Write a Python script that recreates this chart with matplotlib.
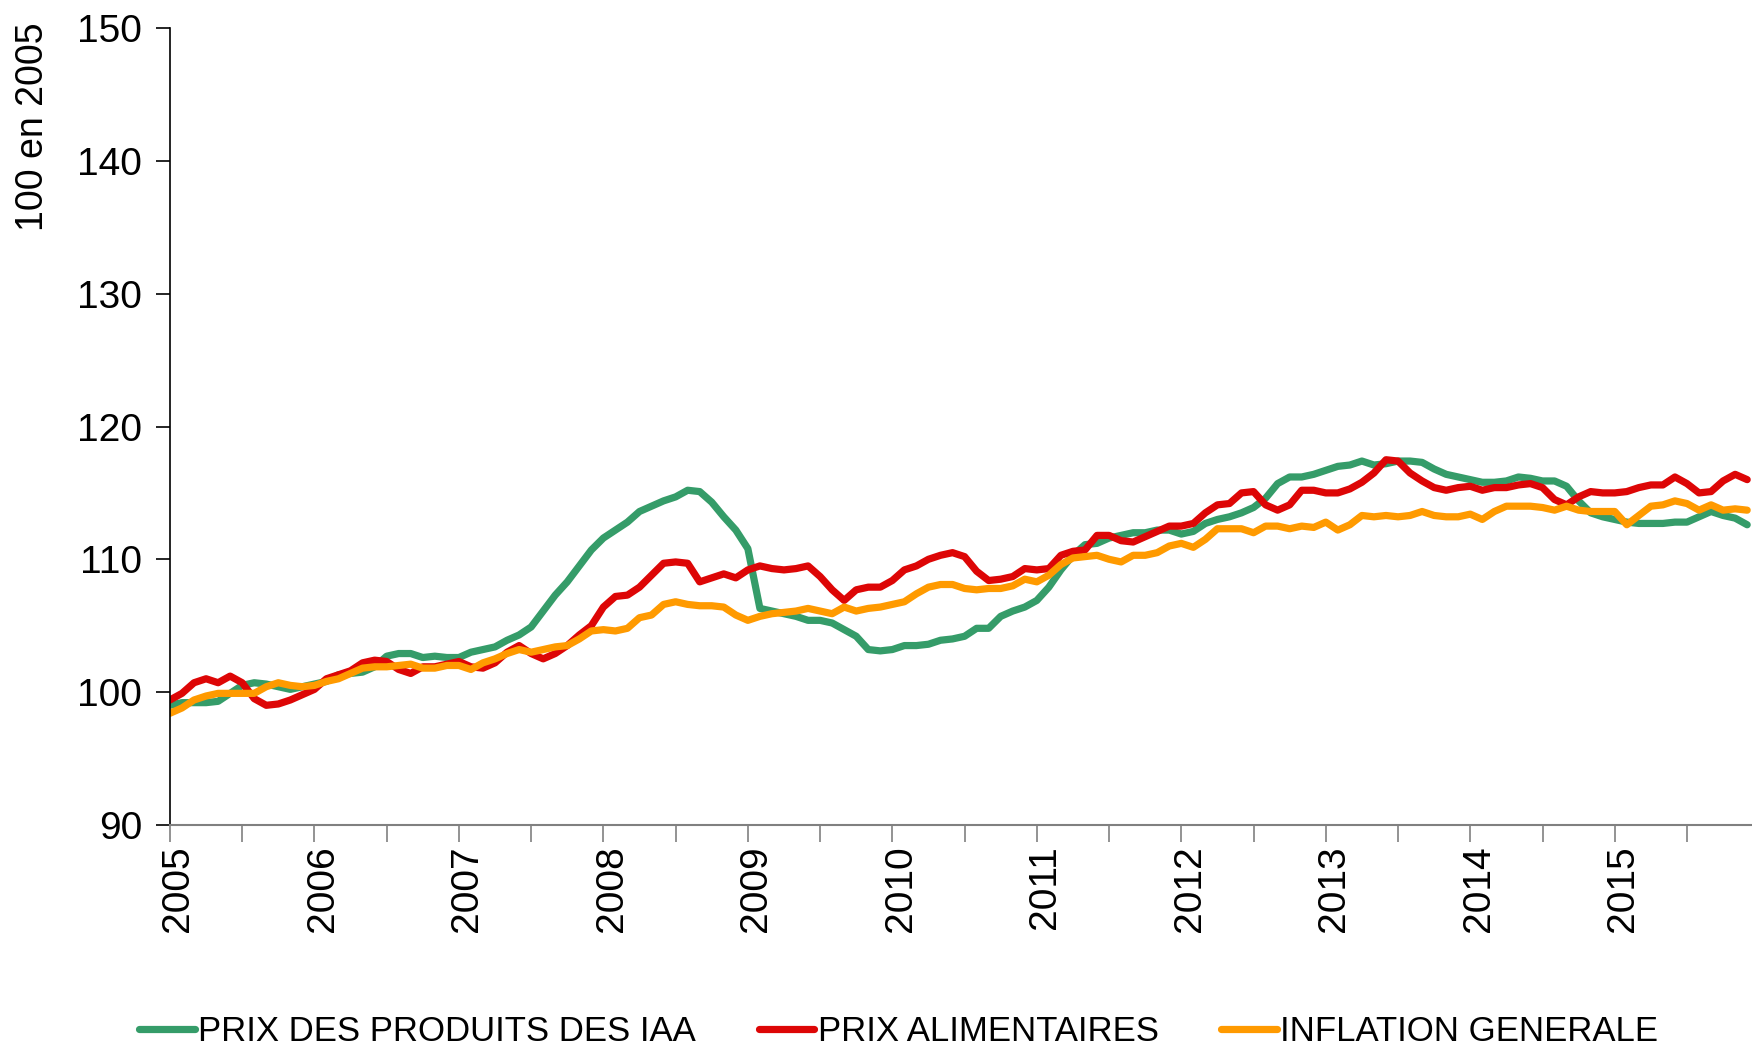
import numpy as np
import matplotlib
matplotlib.use("Agg")
import matplotlib.pyplot as plt
import matplotlib.transforms as mtransforms

plt.rcParams['font.family'] = ['Liberation Sans', 'DejaVu Sans']

# indices mensuels, janvier 2005 -> decembre 2015
iaa = [99.0, 99.2, 99.2, 99.2, 99.3, 99.9, 100.5, 100.7, 100.6, 100.4, 100.2, 100.4,
       100.6, 100.8, 101.3, 101.4, 101.5, 101.9, 102.7, 102.9, 102.9, 102.6, 102.7, 102.6,
       102.6, 103.0, 103.2, 103.4, 103.9, 104.3, 104.9, 106.1, 107.3, 108.3, 109.5, 110.7,
       111.6, 112.2, 112.8, 113.6, 114.0, 114.4, 114.7, 115.2, 115.1, 114.3, 113.2, 112.2,
       110.8, 106.3, 106.1, 105.9, 105.7, 105.4, 105.4, 105.2, 104.7, 104.2, 103.2, 103.1,
       103.2, 103.5, 103.5, 103.6, 103.9, 104.0, 104.2, 104.8, 104.8, 105.7, 106.1, 106.4,
       106.9, 107.9, 109.2, 110.3, 111.1, 111.2, 111.6, 111.8, 112.0, 112.0, 112.2, 112.2,
       111.9, 112.1, 112.7, 113.0, 113.2, 113.5, 113.9, 114.6, 115.7, 116.2, 116.2, 116.4,
       116.7, 117.0, 117.1, 117.4, 117.1, 117.2, 117.4, 117.4, 117.3, 116.8, 116.4, 116.2,
       116.0, 115.8, 115.8, 115.9, 116.2, 116.1, 115.9, 115.9, 115.5, 114.4, 113.5, 113.2,
       113.0, 112.8, 112.7, 112.7, 112.7, 112.8, 112.8, 113.2, 113.6, 113.3, 113.1, 112.6]

alim = [99.4, 99.9, 100.7, 101.0, 100.7, 101.2, 100.7, 99.5, 99.0, 99.1, 99.4, 99.8,
        100.2, 101.0, 101.3, 101.6, 102.2, 102.4, 102.3, 101.7, 101.4, 101.9, 101.9, 102.1,
        102.3, 101.9, 101.8, 102.2, 103.0, 103.5, 102.9, 102.5, 102.9, 103.5, 104.3, 105.0,
        106.4, 107.2, 107.3, 107.9, 108.8, 109.7, 109.8, 109.7, 108.3, 108.6, 108.9, 108.6,
        109.2, 109.5, 109.3, 109.2, 109.3, 109.5, 108.7, 107.7, 106.9, 107.7, 107.9, 107.9,
        108.4, 109.2, 109.5, 110.0, 110.3, 110.5, 110.2, 109.1, 108.4, 108.5, 108.7, 109.3,
        109.2, 109.3, 110.3, 110.6, 110.7, 111.8, 111.8, 111.4, 111.3, 111.7, 112.1, 112.5,
        112.5, 112.7, 113.5, 114.1, 114.2, 115.0, 115.1, 114.1, 113.7, 114.1, 115.2, 115.2,
        115.0, 115.0, 115.3, 115.8, 116.5, 117.5, 117.4, 116.5, 115.9, 115.4, 115.2, 115.4,
        115.5, 115.2, 115.4, 115.4, 115.6, 115.7, 115.4, 114.5, 114.1, 114.7, 115.1, 115.0,
        115.0, 115.1, 115.4, 115.6, 115.6, 116.2, 115.7, 115.0, 115.1, 115.9, 116.4, 116.0]

inflation = [98.4, 98.8, 99.4, 99.7, 99.9, 99.9, 99.9, 99.9, 100.4, 100.7, 100.5, 100.4,
             100.5, 100.8, 101.0, 101.4, 101.8, 101.9, 101.9, 102.0, 102.1, 101.8, 101.8, 102.0,
             102.0, 101.7, 102.2, 102.5, 102.9, 103.2, 103.0, 103.2, 103.4, 103.5, 104.0, 104.6,
             104.7, 104.6, 104.8, 105.6, 105.8, 106.6, 106.8, 106.6, 106.5, 106.5, 106.4, 105.8,
             105.4, 105.7, 105.9, 106.0, 106.1, 106.3, 106.1, 105.9, 106.4, 106.1, 106.3, 106.4,
             106.6, 106.8, 107.4, 107.9, 108.1, 108.1, 107.8, 107.7, 107.8, 107.8, 108.0, 108.5,
             108.3, 108.8, 109.6, 110.1, 110.2, 110.3, 110.0, 109.8, 110.3, 110.3, 110.5, 111.0,
             111.2, 110.9, 111.5, 112.3, 112.3, 112.3, 112.0, 112.5, 112.5, 112.3, 112.5, 112.4,
             112.8, 112.2, 112.6, 113.3, 113.2, 113.3, 113.2, 113.3, 113.6, 113.3, 113.2, 113.2,
             113.4, 113.0, 113.6, 114.0, 114.0, 114.0, 113.9, 113.7, 114.0, 113.7, 113.6, 113.6,
             113.6, 112.6, 113.3, 114.0, 114.1, 114.4, 114.2, 113.7, 114.1, 113.7, 113.8, 113.7]

series_labels = ["PRIX DES PRODUITS DES IAA", "PRIX ALIMENTAIRES", "INFLATION GENERALE"]
colors = ["#359c69", "#dd0606", "#ff9a00"]

fig = plt.figure(figsize=(17.52, 10.48), dpi=100)
ax = fig.add_axes([0.097, 0.213, 0.903, 0.76])

months = np.arange(len(iaa))
for vals, lab, c in zip([iaa, alim, inflation], series_labels, colors):
    ax.plot(months, vals, color=c, lw=5.2, label=lab, solid_joinstyle='round',
            solid_capstyle='round')

ax.set_xlim(0, 131.4)
ax.set_ylim(90, 150)
ax.set_yticks(range(90, 151, 10))

ticks = np.arange(0, 132, 6)
ax.set_xticks(ticks)
ax.set_xticklabels([str(2005 + t // 12) if t % 12 == 0 else "" for t in ticks],
                   rotation=90, fontsize=28)

ax.tick_params(axis='y', labelsize=28, direction='out', length=10, width=1.2, pad=10)
ax.tick_params(axis='x', direction='out', length=12, width=1.2, color='#808080', pad=3)

# decale un peu les annees vers la droite, comme dans l'original
# (apres tick_params, sinon la transform est remise a zero)
shift = mtransforms.ScaledTranslation(6 / 72, 0, fig.dpi_scale_trans)
for tk in ax.xaxis.get_major_ticks():
    tk.label1.set_transform(tk.label1.get_transform() + shift)

for s in ['top', 'right']:
    ax.spines[s].set_visible(False)
ax.spines['bottom'].set_color('#808080')
ax.spines['bottom'].set_linewidth(1.5)
ax.spines['left'].set_linewidth(1.2)

ax.set_ylabel("100 en 2005", fontsize=27)
ax.yaxis.set_label_coords(-0.075, 0.876)

fig.legend(loc='center', bbox_to_anchor=(0.513, 0.016), ncol=3, frameon=False,
           fontsize=25, handlelength=1.6, handletextpad=0.1, columnspacing=1.8)

fig.savefig("out.png", dpi=100)
